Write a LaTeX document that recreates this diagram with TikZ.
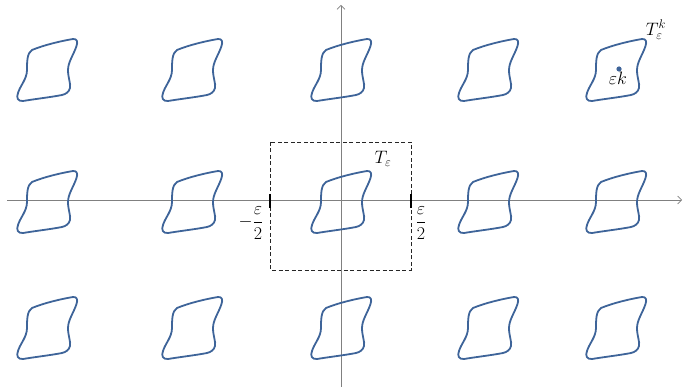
\RequirePackage{fix-cm}
\documentclass[tikz,border=0pt]{standalone}
\usetikzlibrary{arrows.meta}
\definecolor{blobblue}{RGB}{62,100,153}
\definecolor{axisgrey}{RGB}{128,128,128}
\tikzset{
  blobline/.style={draw=blobblue, line width=1.8pt, line join=round},
  axisline/.style={draw=axisgrey, line width=0.8pt, -{Straight Barb[length=4pt,width=8pt,line width=0.6pt]}},
  dashbox/.style={draw=black!85, line width=0.8pt, dash pattern=on 4pt off 2.5pt},
  tickmark/.style={draw=black, line width=1.5pt},
  lbl/.style={inner sep=0pt, font=\fontsize{18}{21}\selectfont},
  blob/.pic={
    \draw[blobline] (-15,-20) .. controls (-3,-25) and (14,-29) .. (26,-31)
      .. controls (30,-31.5) and (31,-28) .. (29.5,-24)
      .. controls (27,-16) and (21,-8) .. (21,0)
      .. controls (21,8) and (24,14) .. (23,18)
      .. controls (22,22) and (19,24) .. (15,25)
      .. controls (5,27) and (-12,29) .. (-24,31)
      .. controls (-29,31.5) and (-31,28) .. (-29,23)
      .. controls (-27,16) and (-20,9) .. (-20,0)
      .. controls (-20,-8) and (-20,-17) .. cycle;
  }
}
\begin{document}
\begin{tikzpicture}[x=1pt,y=-1pt]
\useasboundingbox (0,0) rectangle (683,387);
% axes
\coordinate (xl) at (7,200);
\coordinate (xr) at (682,200);
\coordinate (yb) at (341,387);
\coordinate (yt) at (341,5);
\draw[axisline] (xl) -- (xr);
\draw[axisline] (yb) -- (yt);
% dashed cell
\coordinate (bl) at (270,142);
\coordinate (br) at (411,270);
\draw[dashbox] (bl) rectangle (br);
% ticks
\coordinate (t1a) at (270,194);
\coordinate (t1b) at (270,208);
\coordinate (t2a) at (411,194);
\coordinate (t2b) at (411,208);
\draw[tickmark] (t1a) -- (t1b);
\draw[tickmark] (t2a) -- (t2b);
% blobs
\foreach \cx in {47,192,341,488,616}{
  \foreach \cy in {70,202,328}{
    \pic at (\cx,\cy) {blob};
  }
}
% dot and labels
\fill[blobblue] (619,69) circle (2.6pt);
\node[lbl] (ek) at (618,78) {$\varepsilon k$};
\node[lbl] (Tk) at (656,30) {$T_\varepsilon^k$};
\node[lbl] (Te) at (383,159) {$T_\varepsilon$};
\node[lbl] (mh) at (251,223) {$\displaystyle-\frac{\varepsilon}{2}$};
\node[lbl] (ph) at (421,223) {$\displaystyle\frac{\varepsilon}{2}$};
\end{tikzpicture}
\end{document}
